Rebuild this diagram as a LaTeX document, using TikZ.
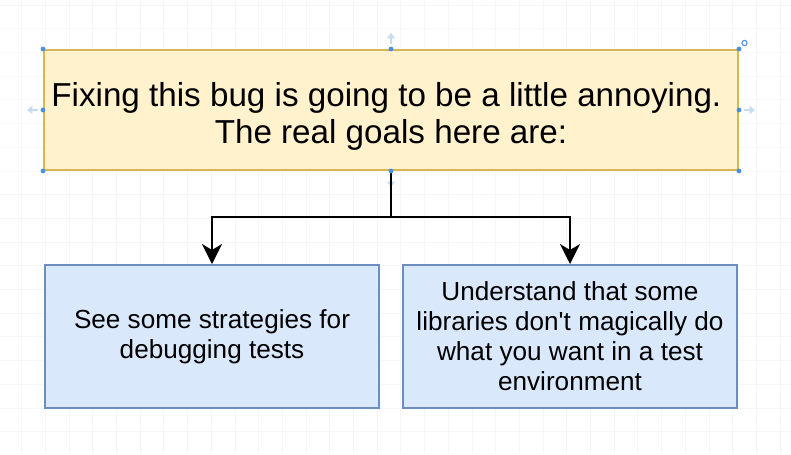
\documentclass[tikz,border=0pt]{standalone}
\usepackage{fontspec}
\setmainfont{Liberation Sans}
\usetikzlibrary{arrows.meta}
\definecolor{goalFill}{HTML}{FFF2CC}
\definecolor{goalLine}{HTML}{D6B656}
\definecolor{aimFill}{HTML}{DAE8FC}
\definecolor{aimLine}{HTML}{6C8EBF}
\definecolor{gridGray}{HTML}{F6F6F6}
\definecolor{handleBlue}{HTML}{4A90E2}
\definecolor{hoverBlue}{HTML}{C6DCF5}

\begin{document}
\begin{tikzpicture}[x=0.75pt,y=0.75pt,yscale=-1,xscale=1,
	gridline/.style={color=gridGray, line width=0.5pt},
	goalbox/.style={draw=goalLine, fill=goalFill, line width=1.5pt, minimum width=520.5pt, minimum height=90pt, inner sep=0pt},
	goaltext/.style={inner sep=0pt, align=center, font=\fontsize{24.9}{27.75}\selectfont},
	aimbox/.style={draw=aimLine, fill=aimFill, line width=1.5pt, minimum width=250.5pt, minimum height=107.25pt, inner sep=0pt, align=center, font=\fontsize{19.6}{22.5}\selectfont},
	link/.style={draw=black, line width=1.5pt},
	handle/.style={fill=handleBlue},
	hover/.style={draw=hoverBlue, line width=1.5pt, -{Triangle[length=4pt,width=6pt]}}]
			\useasboundingbox (0,0) rectangle (791,454);
			\fill[white] (0,0) rectangle (791,454);
			% background grid
			\foreach \gx in {0,...,32} \draw[gridline] ({21.6+23.7*\gx},0) -- ({21.6+23.7*\gx},454);
			\foreach \gy in {0,...,18} \draw[gridline] (0,{5+23.7*\gy}) -- (791,{5+23.7*\gy});
			% boxes
			\node[goalbox] (goal) at (391,110) {};
			\node[goaltext] (goaltxt) at (391,116) {Fixing this bug is going to be a little annoying.\hspace*{0.278em}\\The real goals here are:};
			\node[aimbox] (strat) at (212,336.5) {See some strategies for\\debugging tests};
			\node[aimbox] (libs) at (570,336.5) {Understand that some\\libraries don\textquotesingle t magically do\\what you want in a test\\environment};
			% hover arrows
			\draw[hover] (goal.north) ++(0,-5) -- ++(0,-11);
			\draw[hover] (goal.west) ++(-5,0) -- ++(-11,0);
			\draw[hover] (goal.east) ++(5,0) -- ++(11,0);
			\draw[hover] (goal.south) ++(0,5) -- ++(0,11);
			% connectors
			\coordinate (split) at (391,217);
			\draw[link] (goal.south) -- (split);
			\draw[link, -{Stealth[length=15pt,width=15pt,inset=4.5pt]}] (split) -| (strat.north);
			\draw[link, -{Stealth[length=15pt,width=15pt,inset=4.5pt]}] (split) -| (libs.north);
			% selection handles
			\foreach \a in {north west,north,north east,west,east,south west,south,south east} \fill[handle] (goal.\a) circle (2.4);
			\draw[handleBlue, line width=0.8pt] (goal.north east) ++(5.5,-6) circle (2.6);
	\end{tikzpicture}
\end{document}
